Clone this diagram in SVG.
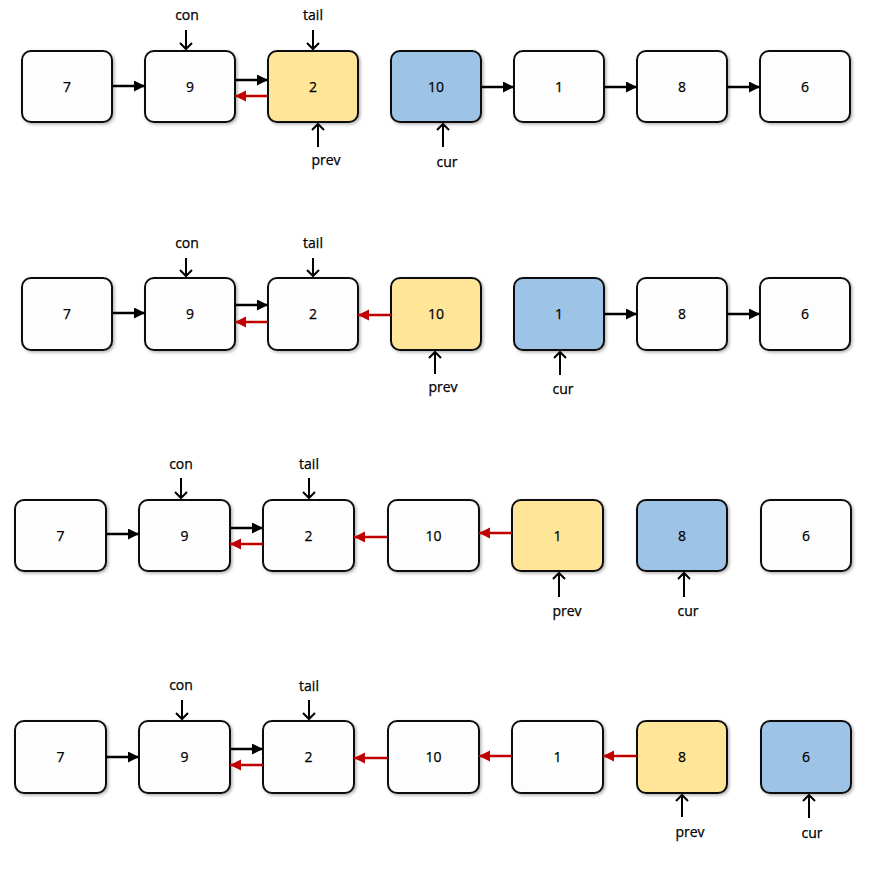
<svg xmlns="http://www.w3.org/2000/svg" width="880" height="872" viewBox="0 0 880 872">
<style>
.box{stroke:#111;stroke-width:2;filter:url(#sh)}
.w{fill:#fdfdfd}.y{fill:#ffe598}.b{fill:#9dc3e6}
.t{font-family:"Open Sans","Liberation Sans",sans-serif;font-size:14px;fill:#000;stroke:#000;stroke-width:0.25;text-anchor:middle}
.lk{stroke:#000;stroke-width:2.5;fill:none;marker-end:url(#ah)}
.lr{stroke:#c00000;stroke-width:2.5;fill:none;marker-end:url(#ar)}
.pt{stroke:#000;stroke-width:2;fill:none;marker-end:url(#ap)}
</style>
<defs>
<filter id="sh" x="-10%" y="-10%" width="130%" height="130%"><feDropShadow dx="1.5" dy="1.5" stdDeviation="1.5" flood-color="#000" flood-opacity="0.3"/></filter>
<marker id="ah" markerWidth="13" markerHeight="12" refX="11" refY="5.5" orient="auto" markerUnits="userSpaceOnUse"><path d="M0,0 L11,5.5 L0,11 Z" fill="#000"/></marker>
<marker id="ar" markerWidth="13" markerHeight="12" refX="11" refY="5.5" orient="auto" markerUnits="userSpaceOnUse"><path d="M0,0 L11,5.5 L0,11 Z" fill="#c00000"/></marker>
<marker id="ap" markerWidth="14" markerHeight="14" refX="7" refY="7" orient="auto" markerUnits="userSpaceOnUse"><path d="M1,1 L7,7 L1,13" fill="none" stroke="#000" stroke-width="2"/></marker>
</defs>

<!-- Row 1 -->
<g id="r1n7"><rect class="box w" x="22" y="51" width="90" height="71" rx="9"/><text class="t" x="67" y="91.5">7</text></g>
<g id="r1n9"><rect class="box w" x="145" y="51" width="90" height="71" rx="9"/><text class="t" x="190" y="91.5">9</text></g>
<g id="r1n2"><rect class="box y" x="268" y="51" width="90" height="71" rx="9"/><text class="t" x="313" y="91.5">2</text></g>
<g id="r1n10"><rect class="box b" x="391" y="51" width="90" height="71" rx="9"/><text class="t" x="436" y="91.5">10</text></g>
<g id="r1n1"><rect class="box w" x="514" y="51" width="90" height="71" rx="9"/><text class="t" x="559" y="91.5">1</text></g>
<g id="r1n8"><rect class="box w" x="637" y="51" width="90" height="71" rx="9"/><text class="t" x="682" y="91.5">8</text></g>
<g id="r1n6"><rect class="box w" x="760" y="51" width="90" height="71" rx="9"/><text class="t" x="805" y="91.5">6</text></g>
<g id="r1labels">
<text class="t" x="187" y="20">con</text>
<text class="t" x="313" y="20">tail</text>
<text class="t" x="326" y="165">prev</text>
<text class="t" x="447" y="167">cur</text>
</g>

<!-- Row 2 -->
<g id="r2n7"><rect class="box w" x="22" y="278" width="90" height="72" rx="9"/><text class="t" x="67" y="319">7</text></g>
<g id="r2n9"><rect class="box w" x="145" y="278" width="90" height="72" rx="9"/><text class="t" x="190" y="319">9</text></g>
<g id="r2n2"><rect class="box w" x="268" y="278" width="90" height="72" rx="9"/><text class="t" x="313" y="319">2</text></g>
<g id="r2n10"><rect class="box y" x="391" y="278" width="90" height="72" rx="9"/><text class="t" x="436" y="319">10</text></g>
<g id="r2n1"><rect class="box b" x="514" y="278" width="90" height="72" rx="9"/><text class="t" x="559" y="319">1</text></g>
<g id="r2n8"><rect class="box w" x="637" y="278" width="90" height="72" rx="9"/><text class="t" x="682" y="319">8</text></g>
<g id="r2n6"><rect class="box w" x="760" y="278" width="90" height="72" rx="9"/><text class="t" x="805" y="319">6</text></g>
<g id="r2labels">
<text class="t" x="187" y="248">con</text>
<text class="t" x="313" y="248">tail</text>
<text class="t" x="443" y="392">prev</text>
<text class="t" x="563" y="394">cur</text>
</g>

<!-- Row 3 -->
<g id="r3n7"><rect class="box w" x="15" y="500" width="91" height="71" rx="9"/><text class="t" x="60.5" y="540.5">7</text></g>
<g id="r3n9"><rect class="box w" x="139" y="500" width="91" height="71" rx="9"/><text class="t" x="184.5" y="540.5">9</text></g>
<g id="r3n2"><rect class="box w" x="263" y="500" width="91" height="71" rx="9"/><text class="t" x="308.5" y="540.5">2</text></g>
<g id="r3n10"><rect class="box w" x="388" y="500" width="91" height="71" rx="9"/><text class="t" x="433.5" y="540.5">10</text></g>
<g id="r3n1"><rect class="box y" x="512" y="500" width="91" height="71" rx="9"/><text class="t" x="557.5" y="540.5">1</text></g>
<g id="r3n8"><rect class="box b" x="637" y="500" width="90" height="71" rx="9"/><text class="t" x="682" y="540.5">8</text></g>
<g id="r3n6"><rect class="box w" x="761" y="500" width="90" height="71" rx="9"/><text class="t" x="806" y="540.5">6</text></g>
<g id="r3labels">
<text class="t" x="181" y="469">con</text>
<text class="t" x="309" y="469">tail</text>
<text class="t" x="567" y="616">prev</text>
<text class="t" x="688" y="616">cur</text>
</g>

<!-- Row 4 -->
<g id="r4n7"><rect class="box w" x="15" y="721" width="91" height="72" rx="9"/><text class="t" x="60.5" y="762">7</text></g>
<g id="r4n9"><rect class="box w" x="139" y="721" width="91" height="72" rx="9"/><text class="t" x="184.5" y="762">9</text></g>
<g id="r4n2"><rect class="box w" x="263" y="721" width="91" height="72" rx="9"/><text class="t" x="308.5" y="762">2</text></g>
<g id="r4n10"><rect class="box w" x="388" y="721" width="91" height="72" rx="9"/><text class="t" x="433.5" y="762">10</text></g>
<g id="r4n1"><rect class="box w" x="512" y="721" width="91" height="72" rx="9"/><text class="t" x="557.5" y="762">1</text></g>
<g id="r4n8"><rect class="box y" x="637" y="721" width="90" height="72" rx="9"/><text class="t" x="682" y="762">8</text></g>
<g id="r4n6"><rect class="box b" x="761" y="721" width="90" height="72" rx="9"/><text class="t" x="806" y="762">6</text></g>
<g id="r4labels">
<text class="t" x="181" y="690">con</text>
<text class="t" x="309" y="691">tail</text>
<text class="t" x="690" y="837">prev</text>
<text class="t" x="812" y="838">cur</text>
</g>

<g id="connectors">
<!-- row 1 -->
<line class="lk" x1="112" y1="86" x2="145" y2="86"/>
<line class="lk" x1="235" y1="80" x2="268" y2="80"/>
<line class="lr" x1="268" y1="96" x2="235" y2="96"/>
<line class="lk" x1="481" y1="87" x2="514" y2="87"/>
<line class="lk" x1="604" y1="87" x2="637" y2="87"/>
<line class="lk" x1="727" y1="87" x2="760" y2="87"/>
<line class="pt" x1="186" y1="30" x2="186" y2="49"/>
<line class="pt" x1="313" y1="30" x2="313" y2="49"/>
<line class="pt" x1="318" y1="147" x2="318" y2="124"/>
<line class="pt" x1="443" y1="147" x2="443" y2="124"/>
<!-- row 2 -->
<line class="lk" x1="112" y1="313" x2="145" y2="313"/>
<line class="lk" x1="235" y1="305" x2="268" y2="305"/>
<line class="lr" x1="268" y1="322" x2="235" y2="322"/>
<line class="lr" x1="391" y1="315" x2="358" y2="315"/>
<line class="lk" x1="604" y1="314" x2="637" y2="314"/>
<line class="lk" x1="727" y1="314" x2="760" y2="314"/>
<line class="pt" x1="186" y1="258" x2="186" y2="276"/>
<line class="pt" x1="313" y1="258" x2="313" y2="276"/>
<line class="pt" x1="435" y1="374" x2="435" y2="352"/>
<line class="pt" x1="560" y1="375" x2="560" y2="352"/>
<!-- row 3 -->
<line class="lk" x1="106" y1="534" x2="139" y2="534"/>
<line class="lk" x1="230" y1="528" x2="263" y2="528"/>
<line class="lr" x1="263" y1="544" x2="230" y2="544"/>
<line class="lr" x1="388" y1="537" x2="354" y2="537"/>
<line class="lr" x1="512" y1="533" x2="479" y2="533"/>
<line class="pt" x1="181" y1="478" x2="181" y2="498"/>
<line class="pt" x1="309" y1="478" x2="309" y2="498"/>
<line class="pt" x1="559" y1="597" x2="559" y2="573"/>
<line class="pt" x1="684" y1="597" x2="684" y2="573"/>
<!-- row 4 -->
<line class="lk" x1="106" y1="757" x2="139" y2="757"/>
<line class="lk" x1="230" y1="749" x2="263" y2="749"/>
<line class="lr" x1="263" y1="765" x2="230" y2="765"/>
<line class="lr" x1="388" y1="758" x2="354" y2="758"/>
<line class="lr" x1="512" y1="756" x2="479" y2="756"/>
<line class="lr" x1="637" y1="756" x2="603" y2="756"/>
<line class="pt" x1="182" y1="700" x2="182" y2="719"/>
<line class="pt" x1="309" y1="700" x2="309" y2="719"/>
<line class="pt" x1="682" y1="817" x2="682" y2="795"/>
<line class="pt" x1="809" y1="818" x2="809" y2="795"/>
</g>
</svg>
